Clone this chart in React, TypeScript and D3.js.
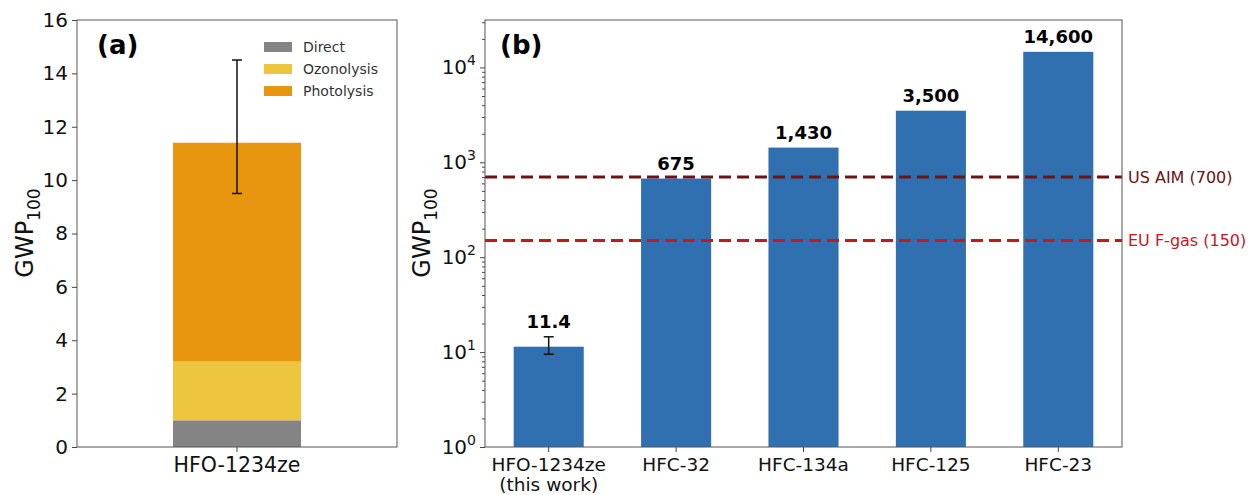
import React, { useEffect, useRef } from 'react'
import * as d3 from 'd3'

// panel (a): contributions to HFO-1234ze GWP100
const sources = ['Direct', 'Ozonolysis', 'Photolysis']
const sourceValues = [1.0, 2.2, 8.2]
const sourceColors = ['#848484', '#eec53f', '#e8960f']
const compoundA = 'HFO-1234ze'
const errA = [9.5, 14.5]

// panel (b): comparison with HFCs (log scale)
const compounds = ['HFO-1234ze|(this work)', 'HFC-32', 'HFC-134a', 'HFC-125', 'HFC-23']
const gwp = [11.4, 675, 1430, 3500, 14600]
const gwpLabels = ['11.4', '675', '1,430', '3,500', '14,600']
const errB = [9.5, 14.5]
const limitNames = ['US AIM (700)', 'EU F-gas (150)']
const limitValues = [700, 150]
const limitColors = ['#6e1212', '#c8161c']
const yTicksA = [0, 2, 4, 6, 8, 10, 12, 14, 16]
const decades = [0, 1, 2, 3, 4]

const FONT = 'DejaVu Sans, sans-serif'

function App() {
  const ref = useRef<SVGSVGElement>(null)

  useEffect(() => {
    const svg = d3.select(ref.current)
    svg.selectAll('*').remove()
    svg.style('font-family', FONT)

    // ---------- panel (a) ----------
    const a = { left: 77, right: 397, top: 20, bottom: 447 }
    const xA = d3.scaleBand().domain([compoundA]).range([a.left, a.right]).paddingInner(0.6).paddingOuter(0.3)
    const yA = d3.scaleLinear().domain([0, 16]).range([a.bottom, a.top])

    const gA = svg.append('g')
    let base = 0
    sourceValues.forEach((v, i) => {
      gA.append('rect')
        .attr('x', xA(compoundA))
        .attr('width', xA.bandwidth())
        .attr('y', yA(base + v))
        .attr('height', yA(base) - yA(base + v))
        .attr('fill', sourceColors[i])
      base += v
    })
    const cxA = xA(compoundA) + xA.bandwidth() / 2
    gA.append('line').attr('x1', cxA).attr('x2', cxA).attr('y1', yA(errA[0])).attr('y2', yA(errA[1]))
      .attr('stroke', '#111').attr('stroke-width', 1.5)
    errA.forEach(e => {
      gA.append('line').attr('x1', cxA - 5).attr('x2', cxA + 5).attr('y1', yA(e)).attr('y2', yA(e))
        .attr('stroke', '#111').attr('stroke-width', 1.5)
    })

    const axA = gA.append('g').attr('transform', `translate(${a.left},0)`)
      .call(d3.axisLeft(yA).tickValues(yTicksA).tickSize(5).tickPadding(4))
    axA.selectAll('text').attr('font-size', 20).attr('fill', '#111').attr('font-family', FONT)
    const axAx = gA.append('g').attr('transform', `translate(0,${a.bottom})`)
      .call(d3.axisBottom(xA).tickSize(5).tickPadding(5))
    axAx.selectAll('text').attr('font-size', 20.5).attr('fill', '#111').attr('font-family', FONT)
    ;[axA, axAx].forEach(ax => {
      ax.select('.domain').remove()
      ax.selectAll('line').attr('stroke', '#444')
    })
    gA.append('rect').attr('x', a.left).attr('y', a.top).attr('width', a.right - a.left)
      .attr('height', a.bottom - a.top).attr('fill', 'none').attr('stroke', '#555').attr('stroke-width', 1)

    gA.append('text').attr('x', 97).attr('y', 54).attr('font-size', 26).attr('font-weight', 'bold')
      .attr('fill', '#000').text('(a)')

    const legA = gA.append('g')
    sources.forEach((s, i) => {
      const yy = 47 + i * 22
      legA.append('rect').attr('x', 264).attr('y', yy - 5).attr('width', 28).attr('height', 10).attr('fill', sourceColors[i])
      legA.append('text').attr('x', 303).attr('y', yy).attr('dy', '0.35em').attr('font-size', 14)
        .attr('fill', '#333').text(s)
    })

    const ylab = (x: number, y: number) => {
      const t = svg.append('text').attr('transform', `translate(${x},${y}) rotate(-90)`)
        .attr('text-anchor', 'middle').attr('font-size', 24).attr('fill', '#111')
      t.append('tspan').text('GWP')
      t.append('tspan').attr('font-size', 17).attr('dy', 7).text('100')
    }
    ylab(33, 233)

    // ---------- panel (b) ----------
    const b = { left: 485, right: 1122, top: 20, bottom: 447 }
    const xB = d3.scaleBand().domain(compounds).range([b.left, b.right]).paddingInner(0.45).paddingOuter(0.225)
    const yB = d3.scaleLog().domain([1, Math.pow(10, 4.5)]).range([b.bottom, b.top])
    const gB = svg.append('g')

    gB.selectAll('rect.bar').data(compounds).enter().append('rect')
      .attr('class', 'bar')
      .attr('x', d => xB(d))
      .attr('width', xB.bandwidth())
      .attr('y', (d, i) => yB(gwp[i]))
      .attr('height', (d, i) => yB(1) - yB(gwp[i]))
      .attr('fill', '#3070b0')

    const cxB = xB(compounds[0]) + xB.bandwidth() / 2
    gB.append('line').attr('x1', cxB).attr('x2', cxB).attr('y1', yB(errB[0])).attr('y2', yB(errB[1]))
      .attr('stroke', '#111').attr('stroke-width', 1.5)
    errB.forEach(e => {
      gB.append('line').attr('x1', cxB - 5).attr('x2', cxB + 5).attr('y1', yB(e)).attr('y2', yB(e))
        .attr('stroke', '#111').attr('stroke-width', 1.5)
    })

    gB.selectAll('text.val').data(compounds).enter().append('text')
      .attr('class', 'val')
      .attr('x', d => xB(d) + xB.bandwidth() / 2)
      .attr('y', (d, i) => yB(i === 0 ? Math.max(gwp[i], errB[1]) : gwp[i]) - 9)
      .attr('text-anchor', 'middle').attr('font-size', 18).attr('font-weight', 'bold').attr('fill', '#000')
      .text((d, i) => gwpLabels[i])

    limitValues.forEach((v, i) => {
      gB.append('line').attr('x1', b.left).attr('x2', b.right).attr('y1', yB(v)).attr('y2', yB(v))
        .attr('stroke', limitColors[i]).attr('stroke-width', 3).attr('stroke-dasharray', '12,6')
      gB.append('text').attr('x', b.right + 6).attr('y', yB(v)).attr('dy', '0.35em')
        .attr('font-size', 16).attr('fill', limitColors[i]).text(limitNames[i])
    })

    const majors = decades.map(k => Math.pow(10, k))
    const minors: number[] = []
    decades.forEach(k => d3.range(2, 10).forEach(m => {
      const v = m * Math.pow(10, k)
      if (v < Math.pow(10, 4.5)) minors.push(v)
    }))
    const axBm = gB.append('g').attr('transform', `translate(${b.left},0)`)
      .call(d3.axisLeft(yB).tickValues(minors).tickSize(3).tickFormat(() => ''))
    const axB = gB.append('g').attr('transform', `translate(${b.left},0)`)
      .call(d3.axisLeft(yB).tickValues(majors).tickSize(5).tickPadding(4).tickFormat(() => ''))
    axB.selectAll('.tick text').each(function (d: any) {
      const t = d3.select(this).attr('font-size', 20).attr('fill', '#111').attr('font-family', FONT)
      t.append('tspan').text('10')
      t.append('tspan').attr('font-size', 14).attr('dy', -9).text(String(Math.round(Math.log10(d))))
    })
    const axBx = gB.append('g').attr('transform', `translate(0,${b.bottom})`)
      .call(d3.axisBottom(xB).tickSize(5).tickPadding(6).tickFormat(() => ''))
    axBx.selectAll('.tick text').each(function (d: any) {
      const t = d3.select(this).attr('font-size', 18.5).attr('fill', '#111').attr('font-family', FONT)
      d.split('|').forEach((line: string, j: number) => {
        t.append('tspan').attr('x', 0).attr('dy', j === 0 ? '0.71em' : '1.08em').text(line)
      })
    })
    ;[axB, axBm, axBx].forEach(ax => {
      ax.select('.domain').remove()
      ax.selectAll('line').attr('stroke', '#444')
    })
    gB.append('rect').attr('x', b.left).attr('y', b.top).attr('width', b.right - b.left)
      .attr('height', b.bottom - b.top).attr('fill', 'none').attr('stroke', '#555').attr('stroke-width', 1)

    gB.append('text').attr('x', 500).attr('y', 54).attr('font-size', 26).attr('font-weight', 'bold')
      .attr('fill', '#000').text('(b)')
    ylab(430, 233)
  }, [])

  return (
    <svg ref={ref} width={1250} height={495}
      style={{ position: 'absolute', left: 0, top: 0, background: '#fff' }} />
  )
}

export default App
